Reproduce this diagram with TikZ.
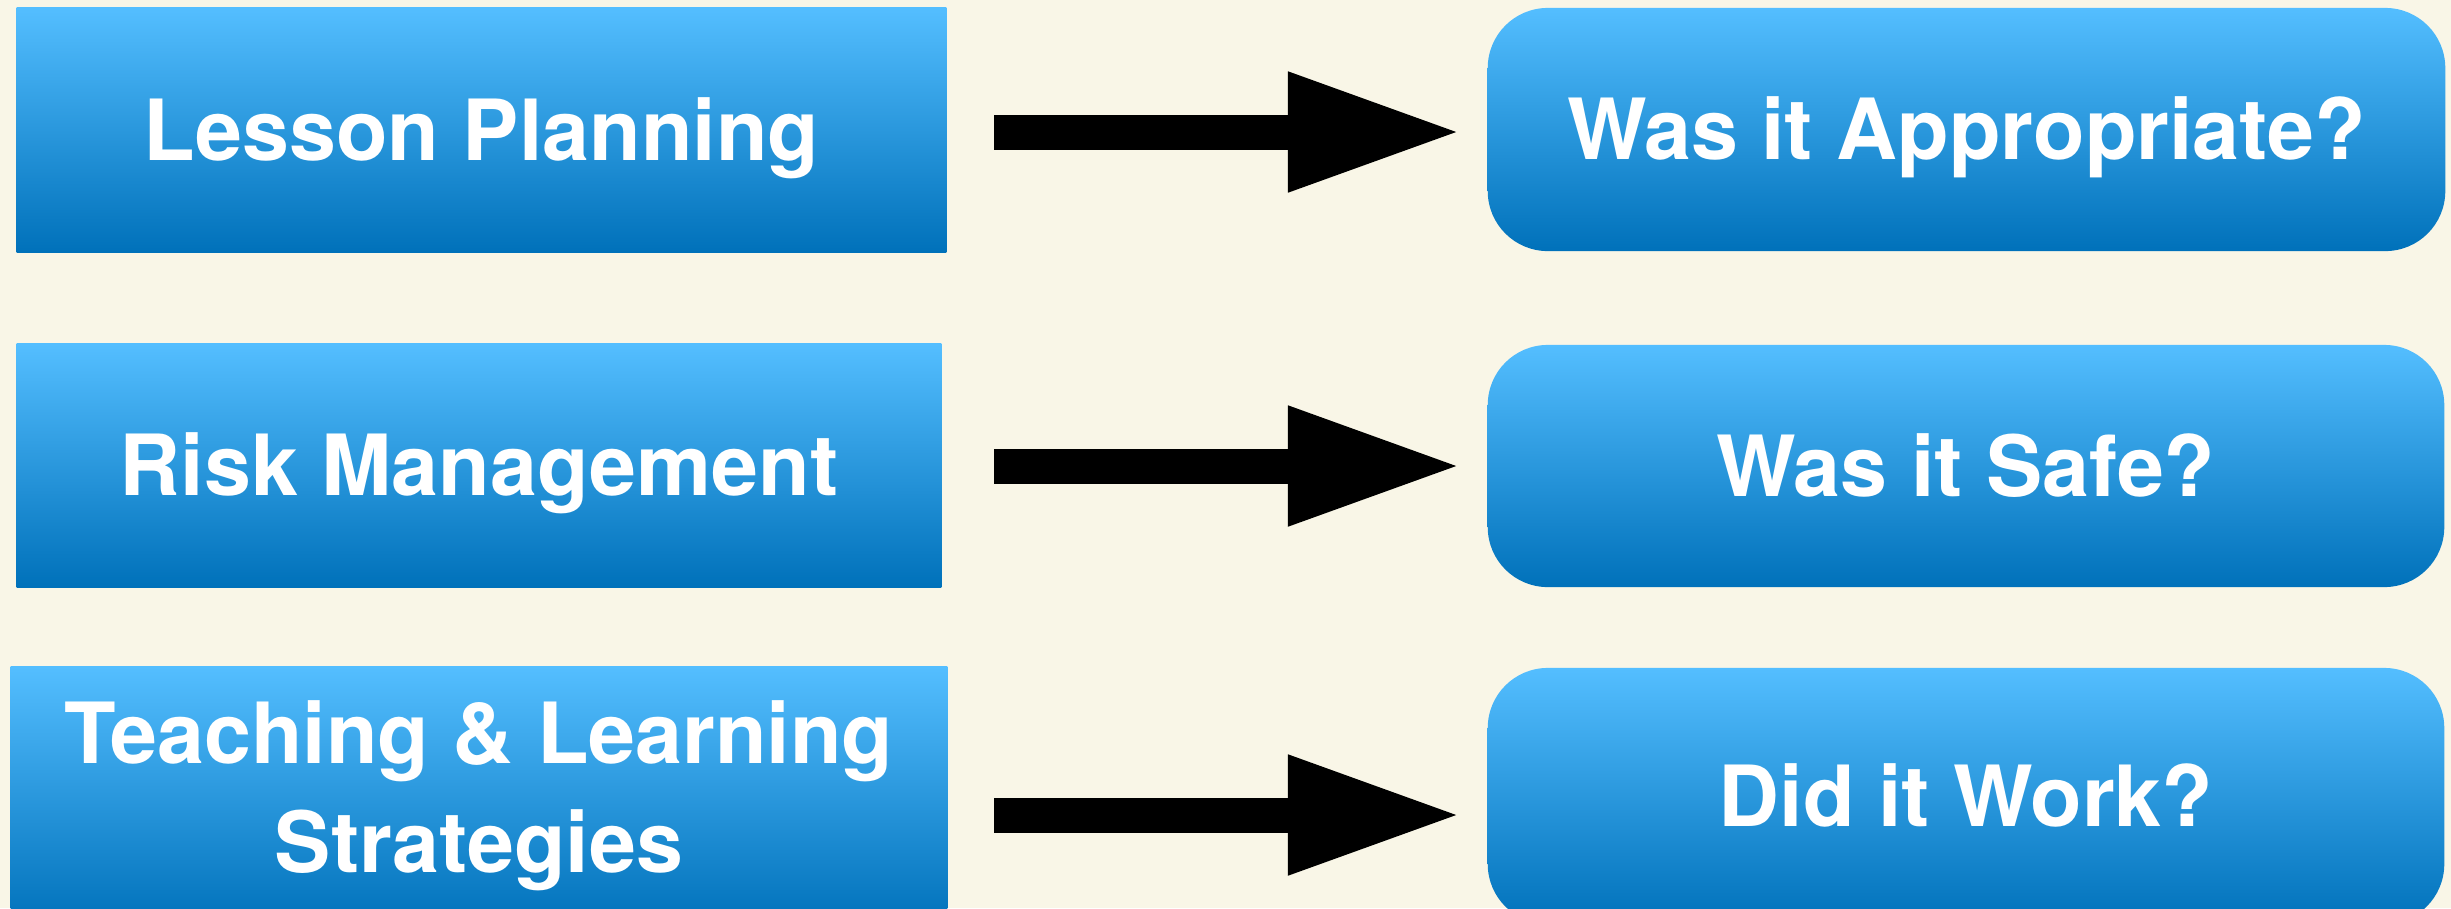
\documentclass[tikz,border=0pt]{standalone}
\usepackage{fontspec}
\setmainfont{TeX Gyre Heros}
\usetikzlibrary{arrows.meta}
\definecolor{bg}{RGB}{249,246,231}
\definecolor{btop}{RGB}{84,190,255}
\definecolor{bbot}{RGB}{0,113,186}
\begin{document}
\begin{tikzpicture}[x=0.01cm,y=-0.01cm,
  box/.style={rectangle, inner sep=0pt, outer sep=0pt, top color=btop, bottom color=bbot,
    text=white, font=\bfseries\fontsize{24}{31}\selectfont, align=center},
  onel/.style={text height=0.62cm, text depth=0.02cm},
  lbox/.style={box},
  rbox/.style={box, rounded corners=0.6cm},
  bigarrow/.style={line width=0.35cm, -{Triangle[length=1.75cm,width=1.1cm]}}]
\useasboundingbox (0,0) rectangle (2451,908);
\fill[bg] (0,0) rectangle (2451,908);
\clip (0,0) rectangle (2451,908);
% left boxes
\node[lbox, onel, minimum width=9.29cm, minimum height=2.44cm] (l1) at (481.5,130) {Lesson Planning};
\node[lbox, onel, minimum width=9.24cm, minimum height=2.43cm] (l2) at (479,465.5) {Risk Management};
\node[lbox, minimum width=9.36cm, minimum height=2.58cm] (l3) at (479,796) {Teaching \& Learning\\Strategies};
% right boxes
\node[rbox, onel, minimum width=9.57cm, minimum height=2.43cm] (r1) at (1966.5,129.5) {Was it Appropriate?};
\node[rbox, onel, minimum width=9.56cm, minimum height=2.42cm] (r2) at (1966,466) {Was it Safe?};
\node[rbox, onel, minimum width=9.56cm, minimum height=2.56cm] (r3) at (1966,796) {Did it Work?};
% arrows
\coordinate (a1s) at (994,132);
\coordinate (a1e) at (1463,132);
\coordinate (a2s) at (994,466);
\coordinate (a2e) at (1463,466);
\coordinate (a3s) at (994,815);
\coordinate (a3e) at (1463,815);
\draw[bigarrow] (a1s) -- (a1e);
\draw[bigarrow] (a2s) -- (a2e);
\draw[bigarrow] (a3s) -- (a3e);
\end{tikzpicture}
\end{document}
